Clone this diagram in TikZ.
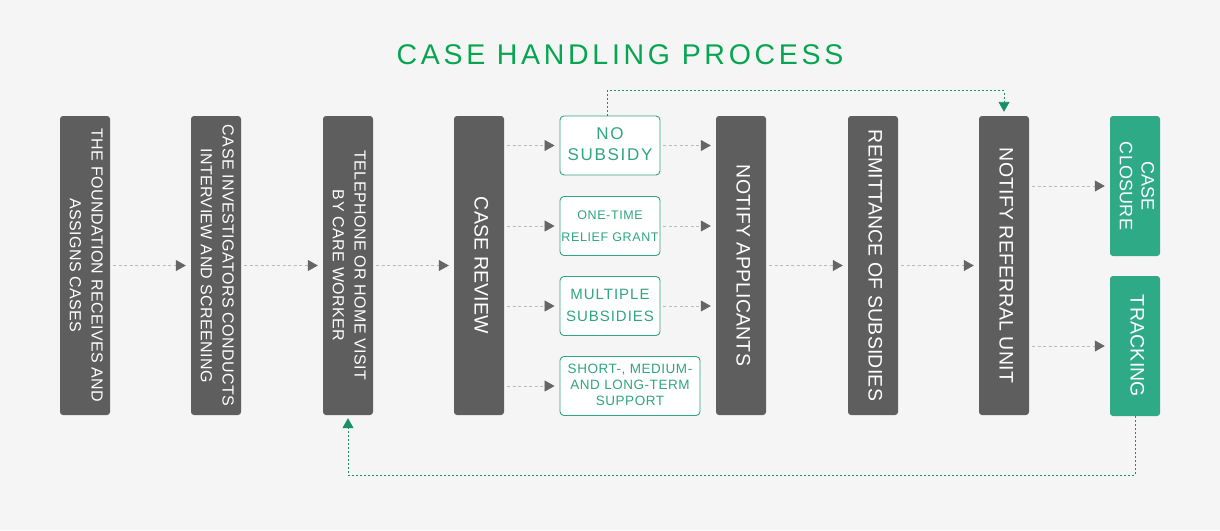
\documentclass[tikz,border=0pt]{standalone}
\usepackage{fontspec}
\usepackage{graphicx}
\setmainfont{Liberation Sans}
\usetikzlibrary{arrows.meta}
\definecolor{bg}{HTML}{F5F5F5}
\definecolor{boxgray}{HTML}{5E5E5E}
\definecolor{boxgreen}{HTML}{2EAA86}
\definecolor{titlegreen}{HTML}{06A650}
\definecolor{optgreen}{HTML}{2FA581}
\definecolor{dashgray}{HTML}{BBBBBB}
\definecolor{tipgray}{HTML}{666666}
\definecolor{loopgreen}{HTML}{1A8F6A}
\newcommand\vtext[1]{\rotatebox{-90}{\begin{tabular}{@{}c@{}}#1\end{tabular}}}
\newcommand\htext[1]{\begin{tabular}{@{}c@{}}#1\end{tabular}}
\newcommand\fsz[3]{\fontsize{#1}{#2}\selectfont\addfontfeature{LetterSpace=#3}}
\tikzset{
  stagebox/.style={fill=boxgray, rounded corners=3pt, inner sep=0pt, text=white,
    minimum width=50pt, minimum height=299pt},
  endbox/.style={fill=boxgreen, rounded corners=3pt, inner sep=0pt, text=white,
    minimum width=50pt, minimum height=140pt},
  optbox/.style={draw=optgreen, line width=0.9pt, fill=white, rounded corners=4pt,
    inner sep=0pt, text=optgreen, minimum width=100pt, minimum height=59pt},
  flow/.style={draw=dashgray, line width=0.8pt, dash pattern=on 3pt off 2.5pt,
    shorten <=3pt, shorten >=5pt,
    -{Triangle[length=10pt,width=11pt,color=tipgray]}},
  loopline/.style={draw=loopgreen, line width=0.9pt, dash pattern=on 2pt off 2pt,
    -{Triangle[length=10pt,width=11pt,color=loopgreen]}},
  titletext/.style={text=titlegreen, font=\fsz{28.5}{32}{13}, inner sep=0pt}
}
\begin{document}
\begin{tikzpicture}[x=1pt,y=-1pt]
\fill[bg] (0,0) rectangle (1220,530);
\useasboundingbox (0,0) rectangle (1220,530);

\node[titletext] (title) at (620,55) {CASE HANDLING PROCESS};

\node[stagebox, font=\fsz{16}{21.7}{2.5}] (b1) at (85,265.5)
  {\vtext{THE FOUNDATION RECEIVES AND\\ASSIGNS CASES}};
\node[stagebox, font=\fsz{16}{21.7}{2.5}] (b2) at (216,265.5)
  {\vtext{CASE INVESTIGATORS CONDUCTS\\INTERVIEW AND SCREENING}};
\node[stagebox, font=\fsz{16}{21.7}{2.5}] (b3) at (348,265.5)
  {\vtext{TELEPHONE OR HOME VISIT\\BY CARE WORKER}};
\node[stagebox, font=\fsz{19.5}{22}{1}] (b4) at (479,265.5)
  {\vtext{CASE REVIEW}};

\node[optbox, font=\fsz{17}{21.3}{10}] (o1) at (610,145.5)
  {\htext{NO\\SUBSIDY}};
\node[optbox, font=\fsz{12.5}{21.7}{5}] (o2) at (610,226)
  {\htext{ONE-TIME\\RELIEF GRANT}};
\node[optbox, font=\fsz{15}{22.7}{6.5}] (o3) at (610,306)
  {\htext{MULTIPLE\\SUBSIDIES}};
\node[optbox, minimum width=140pt, font=\fsz{13.5}{16}{4}] (o4) at (630,386)
  {\htext{SHORT-, MEDIUM-\\AND LONG-TERM\\SUPPORT}};

\node[stagebox, font=\fsz{19.5}{22}{1}] (nap) at (741,265.5)
  {\vtext{NOTIFY APPLICANTS}};
\node[stagebox, font=\fsz{19.5}{22}{1}] (rem) at (873,265.5)
  {\vtext{REMITTANCE OF SUBSIDIES}};
\node[stagebox, font=\fsz{19.5}{22}{1}] (ref) at (1004,265.5)
  {\vtext{NOTIFY REFERRAL UNIT}};

\node[endbox, font=\fsz{18}{21.7}{1}] (clo) at (1135,186)
  {\vtext{CASE\\CLOSURE}};
\node[endbox, font=\fsz{19.5}{22}{1}] (trk) at (1135,346)
  {\vtext{TRACKING}};

\draw[flow] (b1) -- (b2);
\draw[flow] (b2) -- (b3);
\draw[flow] (b3) -- (b4);
\draw[flow] (b4.east |- o1) -- (o1);
\draw[flow] (b4.east |- o2) -- (o2);
\draw[flow] (b4.east |- o3) -- (o3);
\draw[flow] (b4.east |- o4) -- (o4);
\draw[flow] (o1) -- (o1 -| nap.west);
\draw[flow] (o2) -- (o2 -| nap.west);
\draw[flow] (o3) -- (o3 -| nap.west);
\draw[flow] (nap) -- (rem);
\draw[flow] (rem) -- (ref);
\draw[flow] (ref.east |- clo) -- (clo);
\draw[flow] (ref.east |- trk) -- (trk);

\draw[loopline, shorten >=4pt] ([xshift=-3pt]o1.north) -- ++(0,-25) -| (ref.north);
\draw[loopline, shorten >=3pt] (trk.south) -- ++(0,59) -| (b3.south);
\end{tikzpicture}
\end{document}
